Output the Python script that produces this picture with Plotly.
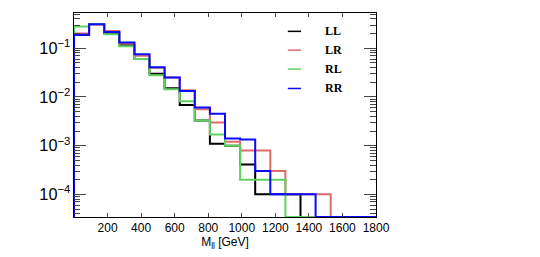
import plotly.graph_objects as go

# ---- data ----
bin_edges = list(range(0, 1801, 90))  # GeV, 20 bins of 90 GeV
series_names = ["LL", "LR", "RL", "RR"]
LL = [0.19, 0.31, 0.20, 0.115, 0.060, 0.030, 0.0151, 0.0068, 0.0033, 0.0011,
      0.0010, 0.00041, 1e-4, 1e-4, 1e-4, 0, 0, 0, 0, 0]
LR = [0.20, 0.31, 0.227, 0.125, 0.070, 0.040, 0.025, 0.0137, 0.0056, 0.0030,
      0.0012, 0.0008, 0.0008, 0.0003, 1e-4, 1e-4, 1e-4, 0, 0, 0]
RL = [0.28, 0.315, 0.194, 0.11, 0.060, 0.028, 0.0144, 0.0082, 0.0033, 0.0017,
      0.00100, 0.0002, 0.0002, 0.0002, 0, 0, 0, 0, 0, 0]
RR = [0.19, 0.31, 0.216, 0.132, 0.0753, 0.0407, 0.025, 0.0133, 0.0061, 0.0045,
      0.0014, 0.00134, 0.0003, 1e-4, 1e-4, 1e-4, 0, 0, 0, 0]
series_values = [LL, LR, RL, RR]
colors = ["#000000", "#e06a6a", "#5fd35f", "#0a0aff"]
x_tick_vals = [200, 400, 600, 800, 1000, 1200, 1400, 1600, 1800]

Y_LOG_MIN, Y_LOG_MAX = -4.465, -0.276
y_floor = 10 ** Y_LOG_MIN

fig = go.Figure()
for name, vals, col in zip(series_names, series_values, colors):
    yv = [v if v > 0 else y_floor for v in vals]
    xs = [bin_edges[0]] + bin_edges + [bin_edges[-1]]
    ys = [y_floor] + yv + [yv[-1], y_floor]
    fig.add_trace(go.Scatter(
        x=xs, y=ys, mode="lines", line=dict(shape="hv", color=col, width=2),
        name=name, showlegend=False, cliponaxis=True,
    ))

# custom legend (ROOT style)
leg_y = [0.91, 0.818, 0.725, 0.63]
shapes = []
annotations = []
for name, col, yy in zip(series_names, colors, leg_y):
    shapes.append(dict(type="line", xref="paper", yref="paper",
                       x0=0.708, x1=0.752, y0=yy, y1=yy,
                       line=dict(color=col, width=1.5)))
    annotations.append(dict(text="<b>%s</b>" % name, xref="paper", yref="paper",
                            x=0.824, y=yy, xanchor="left", yanchor="middle",
                            showarrow=False,
                            font=dict(family="Liberation Serif", size=12, color="black")))

fig.update_layout(
    width=540, height=257,
    margin=dict(l=74, r=164, t=13, b=40),
    paper_bgcolor="white", plot_bgcolor="white",
    font=dict(family="Liberation Sans", size=12, color="black"),
    shapes=shapes, annotations=annotations,
    showlegend=False,
)
fig.update_xaxes(
    range=[0, 1800], tickvals=x_tick_vals, ticks="inside", ticklen=4,
    showline=True, linecolor="black", linewidth=1, mirror="ticks",
    showgrid=False, zeroline=False,
    tickfont=dict(size=12),
    title=dict(text="M<sub>ll</sub> [GeV]", font=dict(size=12), standoff=2),
)
fig.update_yaxes(
    type="log", range=[Y_LOG_MIN, Y_LOG_MAX], dtick=1, exponentformat="power",
    ticks="inside", ticklen=12, showline=True, linecolor="black", linewidth=1,
    mirror="ticks", showgrid=False, zeroline=False, tickfont=dict(size=13),
    minor=dict(ticks="inside", ticklen=6, dtick="D1", showgrid=False),
)

fig.write_html("out.html", config={"displayModeBar": False},
               post_script="document.body.style.margin='0';document.body.style.padding='0';")
